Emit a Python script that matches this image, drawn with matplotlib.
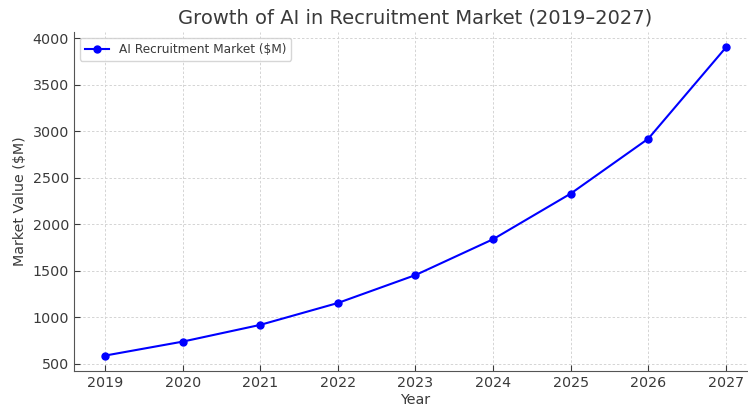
import matplotlib
matplotlib.use("Agg")
import matplotlib.pyplot as plt

years = [2019, 2020, 2021, 2022, 2023, 2024, 2025, 2026, 2027]
market_values = [590, 740, 920, 1155, 1455, 1840, 2330, 2920, 3900]
series_label = "AI Recruitment Market ($M)"
title = "Growth of AI in Recruitment Market (2019\u20132027)"

text_color = "#3a3a3a"
plt.rcParams["text.color"] = text_color
plt.rcParams["axes.labelcolor"] = text_color
plt.rcParams["xtick.color"] = text_color
plt.rcParams["ytick.color"] = text_color

fig = plt.figure(figsize=(7.48, 4.08), dpi=100)
ax = fig.add_axes([74/748, 1 - 371/408, (757-74)/748, (371-32)/408])

ax.plot(years, market_values, color="blue", marker="o", markersize=5,
        linewidth=1.5, label=series_label)

ax.set_xticks(years)
ax.set_xticklabels([str(y) for y in years])
ax.set_yticks([500, 1000, 1500, 2000, 2500, 3000, 3500, 4000])
ax.tick_params(direction="in", labelsize=10.3, length=4)
ax.grid(True, linestyle=(0, (2.5, 2)), color="#d4d4d4", linewidth=0.7)
for s in ["top", "right"]:
    ax.spines[s].set_visible(False)
for s in ["left", "bottom"]:
    ax.spines[s].set_color("#555555")

ax.set_xlabel("Year", fontsize=10.3, labelpad=2)
ax.set_ylabel("Market Value ($M)", fontsize=10.3)
ax.set_title(title, fontsize=14, pad=6)
ax.legend(loc="upper left", fontsize=8.7, frameon=True)

fig.savefig("out.png", dpi=100)
